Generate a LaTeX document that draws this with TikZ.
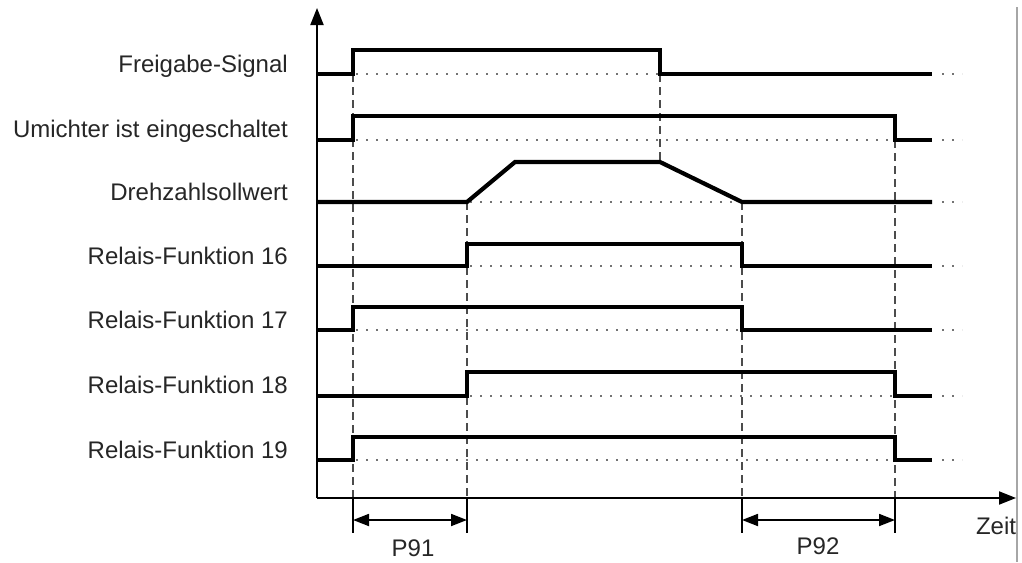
\documentclass[tikz,border=0pt]{standalone}
\usepackage{fontspec}
\setmainfont{Liberation Sans}
\usetikzlibrary{arrows.meta}
\begin{document}
\begin{tikzpicture}[x=1pt,y=-1pt,
  sig/.style={line width=4.2pt, line join=miter, line cap=butt},
  dotl/.style={color=black!55, line width=2pt, dash pattern=on 2pt off 8pt},
  dashv/.style={color=black!70, line width=2.4pt, dash pattern=on 8pt off 5pt},
  axis/.style={line width=2pt, -{Triangle[length=17pt,width=13pt]}},
  tick/.style={line width=1.8pt},
  dim/.style={line width=1.8pt, {Triangle[length=16pt,width=12pt]}-{Triangle[length=16pt,width=12pt]}},
  lab/.style={anchor=base east, inner sep=0pt, text=black!85, font=\fontsize{24}{28}\selectfont},
  dlab/.style={inner sep=0pt, text=black!85, font=\fontsize{24}{28}\selectfont}]
\useasboundingbox (0,0) rectangle (1022,562);
\fill[white] (0,0) rectangle (1022,562);
% right border line
\draw[color=black!35, line width=1.5pt] (1017,7) -- (1017,562);

% labels
\node[lab] (l1) at (288,72) {Freigabe-Signal};
\node[lab] (l2) at (288,137) {Umichter ist eingeschaltet};
\node[lab] (l3) at (288,200) {Drehzahlsollwert};
\node[lab] (l4) at (288,264) {Relais-Funktion 16};
\node[lab] (l5) at (288,328) {Relais-Funktion 17};
\node[lab] (l6) at (288,393) {Relais-Funktion 18};
\node[lab] (l7) at (288,458) {Relais-Funktion 19};

% dashed verticals
\draw[dashv] (353,74) -- (353,498);
\draw[dashv] (467,202) -- (467,498);
\draw[dashv] (742,202) -- (742,498);
\draw[dashv] (895,140) -- (895,498);
\draw[dashv] (660,74) -- (660,162);

% dotted low levels inside pulses
\draw[dotl] (356,74) -- (658,74);
\draw[dotl] (356,140) -- (893,140);
\draw[dotl] (470,202) -- (740,202);
\draw[dotl] (470,266) -- (740,266);
\draw[dotl] (356,330) -- (740,330);
\draw[dotl] (470,396) -- (893,396);
\draw[dotl] (356,460) -- (893,460);
% dotted tails
\foreach \y in {74,140,202,266,330,396,460}
  \draw[dotl] (942,\y) -- (962,\y);

% signals
\draw[sig] (317,74) -- (353,74) -- (353,50) -- (660,50) -- (660,74) -- (932,74);
\draw[sig] (317,140) -- (353,140) -- (353,116) -- (895,116) -- (895,140) -- (932,140);
\draw[sig] (317,202) -- (467,202) -- (515,162) -- (660,162) -- (742,202) -- (932,202);
\draw[sig] (317,266) -- (467,266) -- (467,244) -- (742,244) -- (742,266) -- (932,266);
\draw[sig] (317,330) -- (353,330) -- (353,307) -- (742,307) -- (742,330) -- (932,330);
\draw[sig] (317,396) -- (467,396) -- (467,372) -- (895,372) -- (895,396) -- (932,396);
\draw[sig] (317,460) -- (353,460) -- (353,437) -- (895,437) -- (895,460) -- (932,460);

% axes
\coordinate (o) at (317,498);
\coordinate (ytop) at (317,8);
\coordinate (xend) at (1016,498);
\draw[axis] (o) -- (ytop);
\draw[axis] (o) -- (xend);

% dimension ticks
\foreach \x in {353,467,742,895}
  \draw[tick] (\x,497) -- (\x,533);
\coordinate (a1) at (353,520);
\coordinate (a2) at (467,520);
\coordinate (b1) at (742,520);
\coordinate (b2) at (895,520);
\draw[dim] (a1) -- (a2);
\draw[dim] (b1) -- (b2);
\node[dlab] (p91) at (413,548) {P91};
\node[dlab] (p92) at (818,546) {P92};
\node[dlab] (zeit) at (996,526) {Zeit};
\end{tikzpicture}
\end{document}
